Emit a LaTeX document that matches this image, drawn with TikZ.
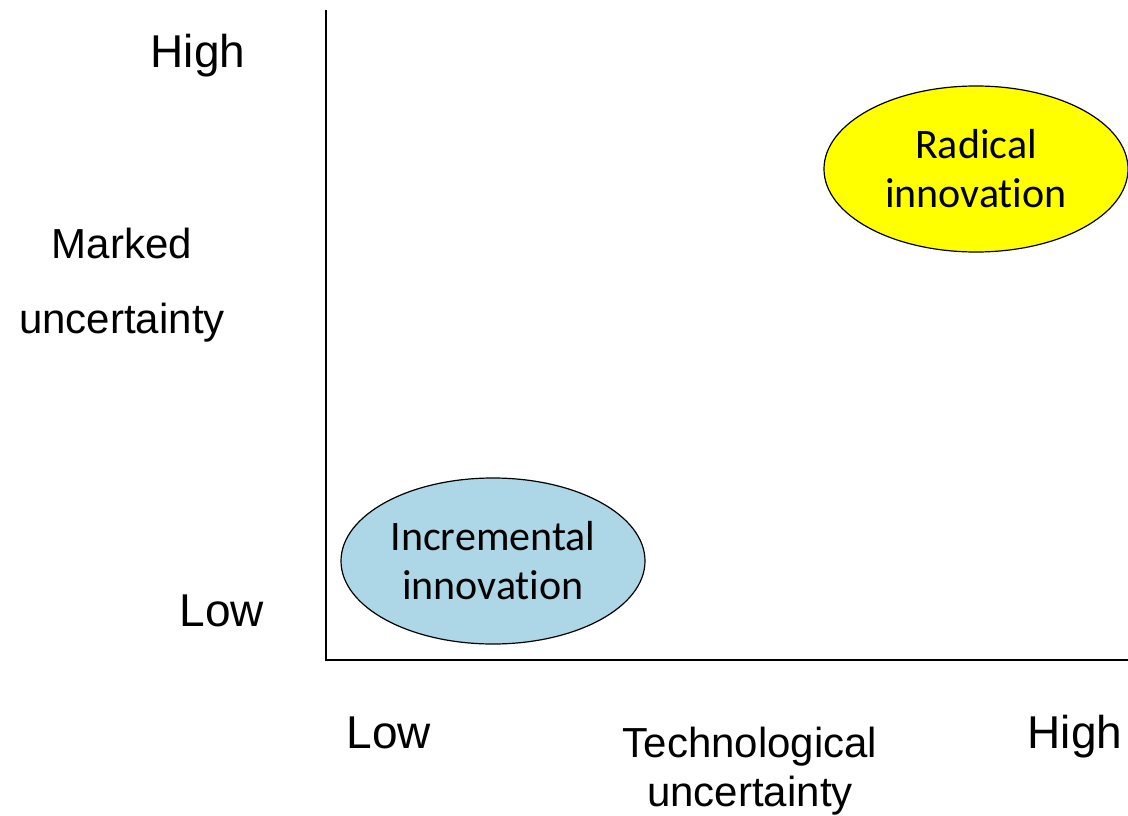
\documentclass[tikz,border=0pt]{standalone}
\usepackage{fontspec}
\setmainfont{Liberation Sans}
\newfontfamily\calibri[Ligatures=NoCommon]{Carlito}
\usetikzlibrary{shapes.geometric}
\definecolor{incblue}{RGB}{173,215,230}
\definecolor{radyellow}{RGB}{255,255,0}
\tikzset{
	axislabel/.style={font=\fontsize{46}{46}\selectfont,inner sep=0pt,anchor=base},
	axistitle/.style={align=center,inner sep=0pt,anchor=base},
	innov/.style={ellipse,draw,line width=1.2pt,minimum width=304pt,minimum height=166pt,inner sep=0pt,align=center,font=\calibri\fontsize{42}{49}\selectfont}
}
\begin{document}
\begin{tikzpicture}[x=1pt,y=-1pt]
			\useasboundingbox (0,0) rectangle (1128,816);
			\coordinate (top) at (326,10);
			\coordinate (origin) at (326,660);
			\coordinate (right) at (1128,660);
			\draw[line width=1.5pt] (top) -- (origin) -- (right);
			\node[axislabel] (yhigh) at (198,67) {High};
			\node[axislabel] (ylow) at (222,626) {Low};
			\node[axistitle,font=\fontsize{42}{75}\selectfont] (ytitle) at (122,333) {Marked\\uncertainty};
			\node[axislabel] (xlow) at (389,748) {Low};
			\node[axislabel] (xhigh) at (1075,748) {High};
			\node[axistitle,font=\fontsize{42}{49}\selectfont] (xtitle) at (750,806) {Technological\\uncertainty};
			\node[innov,fill=radyellow] (radical) at (976,169) {Radical\\innovation};
			\node[innov,fill=incblue] (incremental) at (493,561) {Incremental\\innovation};
		\end{tikzpicture}
\end{document}
